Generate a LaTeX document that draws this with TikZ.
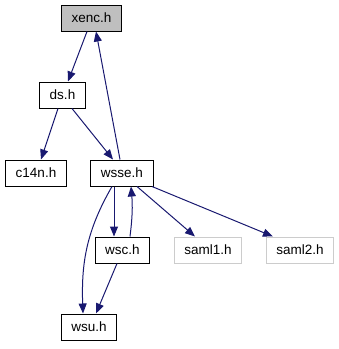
\documentclass[tikz,border=0pt]{standalone}
\usepackage{fontspec}
\setmainfont{Liberation Sans}
\usetikzlibrary{arrows.meta}
\definecolor{edgeblue}{RGB}{25,25,112}
\definecolor{boxgray}{RGB}{191,191,191}

\begin{document}
\begin{tikzpicture}[x=1pt,y=-1pt,
		file/.style={draw,line width=1pt,minimum height=26pt,inner xsep=10pt,
			font=\fontsize{13.5}{15}\selectfont},
		extfile/.style={file,draw=boxgray!80},
		dep/.style={draw=edgeblue,line width=1pt,
			-{Triangle[length=10pt,width=8pt,fill=edgeblue]}}]
		\useasboundingbox (0,0) rectangle (339,349);
		% header nodes
		\node[file,fill=boxgray] (xenc) at (91.5,18) {xenc.h};
		\node[file] (ds) at (62.5,95) {ds.h};
		\node[file] (c14n) at (36,173) {c14n.h};
		\node[file] (wsse) at (122,173) {wsse.h};
		\node[file] (wsc) at (122.5,250) {wsc.h};
		\node[extfile] (saml1) at (208,250) {saml1.h};
		\node[extfile] (saml2) at (300,250) {saml2.h};
		\node[file] (wsu) at (89,327) {wsu.h};
		% include edges
		\draw[dep] ([xshift=-4.5pt]xenc.south) -- ([xshift=5.5pt]ds.north);
		\draw[dep] ([xshift=-2pt]wsse.north) -- ([xshift=4.5pt]xenc.south);
		\draw[dep] ([xshift=-4.5pt]ds.south) -- ([xshift=5pt]c14n.north);
		\draw[dep] ([xshift=9.5pt]ds.south) -- ([xshift=-9pt]wsse.north);
		\draw[dep] ([xshift=-8pt]wsse.south) -- ([xshift=-8.5pt]wsc.north);
		\draw[dep] ([xshift=7.5pt]wsc.north) to[bend right=6] ([xshift=9pt]wsse.south);
		\draw[dep] ([xshift=15pt]wsse.south) -- ([xshift=-13pt]saml1.north);
		\draw[dep] ([xshift=30pt]wsse.south) -- ([xshift=-27pt]saml2.north);
		\draw[dep] ([xshift=-10pt]wsse.south) to[out=-120,in=92] ([xshift=-6pt]wsu.north);
		\draw[dep] ([xshift=-5.5pt]wsc.south) -- ([xshift=7pt]wsu.north);
	\end{tikzpicture}
\end{document}
